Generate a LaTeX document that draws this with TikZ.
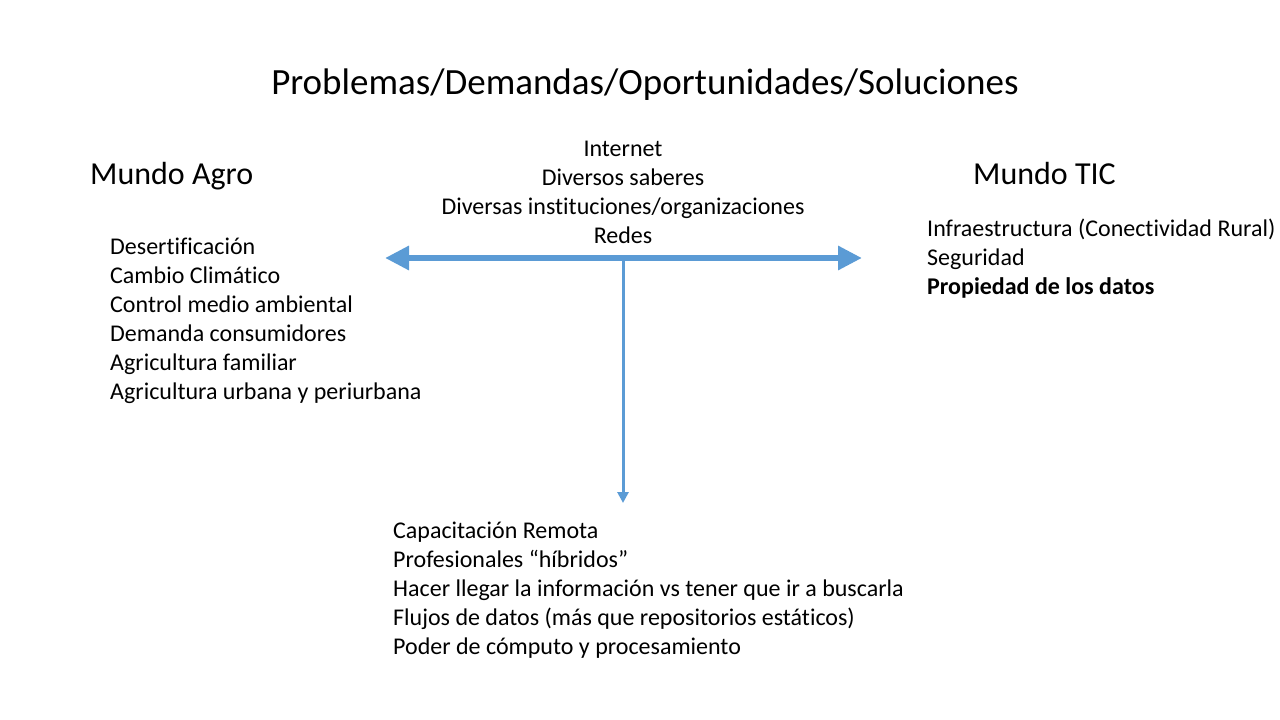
\documentclass[tikz,border=0pt]{standalone}
\usepackage{fontspec}
\setmainfont{Carlito}[Ligatures=NoCommon]
\usepackage{xcolor}
\definecolor{flecha}{RGB}{91,155,213}
\usetikzlibrary{arrows.meta, matrix}

\begin{document}
\begin{tikzpicture}[x=1pt, y=-1pt,
      titulo/.style={font=\fontsize{37}{44}\selectfont, inner sep=0pt},
      mundo/.style={font=\fontsize{32}{38}\selectfont, inner sep=0pt},
      lista/.style={matrix of nodes,
        nodes={anchor=base west, inner sep=0pt, font=\fontsize{24}{29}\selectfont},
        row sep={29pt,between origins}},
      listac/.style={matrix of nodes,
        nodes={anchor=base, inner sep=0pt, font=\fontsize{24}{29}\selectfont},
        row sep={29pt,between origins}}]
      \useasboundingbox (0,0) rectangle (1280,720);
      \node[titulo, anchor=base] (titulo) at (645,94) {Problemas/Demandas/Oportunidades/Soluciones};
      \node[mundo, anchor=base west] (agro) at (90,184) {Mundo Agro};
      \node[mundo, anchor=base west] (tic) at (973,184) {Mundo TIC};
      % lista central
      \matrix (medio)[listac, matrix anchor=medio-1-1.base] at (623,156) {
        Internet \\
        Diversos saberes \\
        Diversas instituciones/organizaciones \\
        Redes \\
      };
      % lista agro
      \matrix (agrolista)[lista, matrix anchor=agrolista-1-1.base west] at (110,254) {
        Desertificación \\
        Cambio Climático \\
        Control medio ambiental \\
        Demanda consumidores \\
        Agricultura familiar \\
        Agricultura urbana y periurbana \\
      };
      % lista tic
      \matrix (ticlista)[lista, matrix anchor=ticlista-1-1.base west] at (927,236) {
        Infraestructura (Conectividad Rural) \\
        Seguridad \\
        \textbf{Propiedad de los datos} \\
      };
      % lista soluciones
      \matrix (soluciones)[lista, matrix anchor=soluciones-1-1.base west] at (393,538) {
        Capacitación Remota \\
        Profesionales “híbridos” \\
        Hacer llegar la información vs tener que ir a buscarla \\
        Flujos de datos (más que repositorios estáticos) \\
        Poder de cómputo y procesamiento \\
      };
      \coordinate (izq) at (385,258);
      \coordinate (der) at (862,258);
      \coordinate (cruce) at (623,258);
      \coordinate (abajo) at (623,503);
      \draw[flecha, line width=6pt, {Triangle[length=24pt,width=23pt]}-{Triangle[length=24pt,width=23pt]}] (izq) -- (der);
      \draw[flecha, line width=3pt, -{Triangle[length=11pt,width=11pt]}] (cruce) -- (abajo);
\end{tikzpicture}
\end{document}
